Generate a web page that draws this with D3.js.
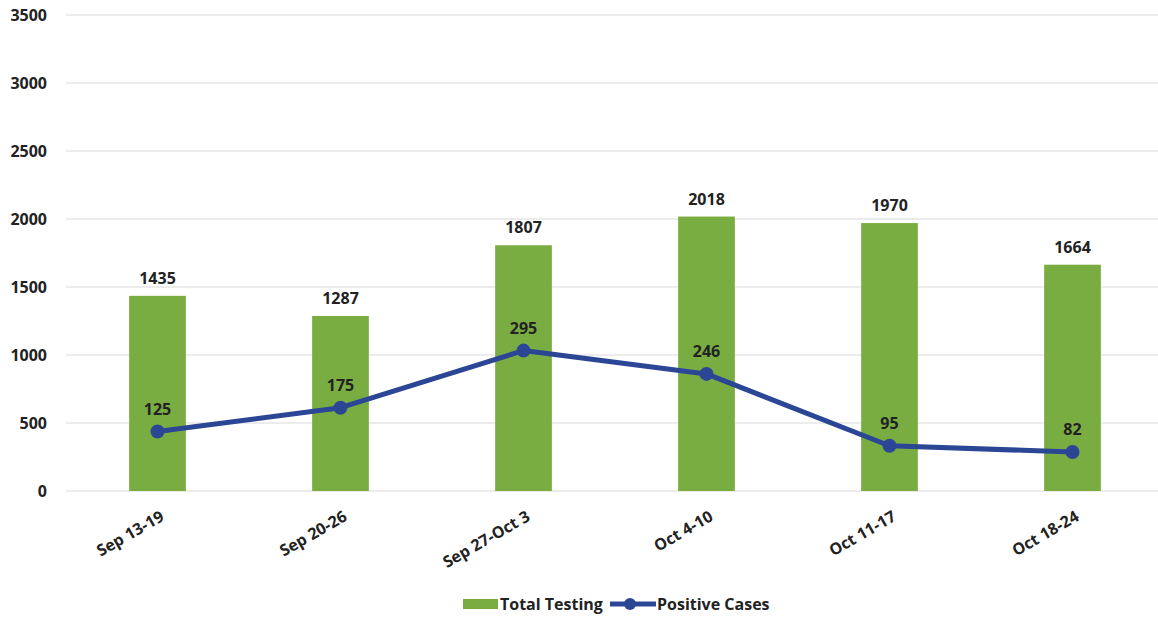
<!DOCTYPE html>
<html>
<head>
<meta charset="utf-8">
<script src="https://cdn.jsdelivr.net/npm/d3@7"></script>
<style>
  body { margin: 0; background: #fff; }
  text { font-family: "Open Sans", "Liberation Sans", sans-serif; font-weight: bold; fill: #222; }
</style>
</head>
<body>
<svg id="chart" width="1158" height="619"></svg>
<script>
var weeks = ["Sep 13-19", "Sep 20-26", "Sep 27-Oct 3", "Oct 4-10", "Oct 11-17", "Oct 18-24"];
var totalTesting = [1435, 1287, 1807, 2018, 1970, 1664];
var positiveCases = [125, 175, 295, 246, 95, 82];
var yTicks = [0, 500, 1000, 1500, 2000, 2500, 3000, 3500];

var svg = d3.select("#chart");
var green = "#7aad41";
var blue = "#2c4696";

var x = d3.scaleBand().domain(weeks).range([66, 1164]).paddingInner(0.69).paddingOuter(0.345);
var y = d3.scaleLinear().domain([0, 3500]).range([491, 15]);
// hidden secondary axis for the line
var y2 = d3.scaleLinear().domain([0, 1000]).range([491, 15]);

// gridlines
svg.append("g").selectAll("line").data(yTicks).enter().append("line")
  .attr("x1", 66).attr("x2", 1158)
  .attr("y1", function(d){ return y(d); }).attr("y2", function(d){ return y(d); })
  .attr("stroke", "#d9d9d9").attr("stroke-width", 1);

// y tick labels
svg.append("g").selectAll("text").data(yTicks).enter().append("text")
  .attr("x", 47).attr("y", function(d){ return y(d); })
  .attr("dy", "0.35em").attr("text-anchor", "end")
  .style("font-size", "16px")
  .text(function(d){ return d; });

// bars
svg.append("g").selectAll("rect").data(totalTesting).enter().append("rect")
  .attr("x", function(d, i){ return x(weeks[i]); })
  .attr("y", function(d){ return y(d); })
  .attr("width", x.bandwidth())
  .attr("height", function(d){ return y(0) - y(d); })
  .attr("fill", green);

svg.append("g").selectAll("text").data(totalTesting).enter().append("text")
  .attr("x", function(d, i){ return x(weeks[i]) + x.bandwidth() / 2; })
  .attr("y", function(d){ return y(d) - 12; })
  .attr("text-anchor", "middle")
  .style("font-size", "16px")
  .text(function(d){ return d; });

// line
var cx = function(i){ return x(weeks[i]) + x.bandwidth() / 2; };
var line = d3.line()
  .x(function(d, i){ return cx(i); })
  .y(function(d){ return y2(d); });

svg.append("path").datum(positiveCases)
  .attr("d", line)
  .attr("fill", "none").attr("stroke", blue).attr("stroke-width", 5)
  .attr("stroke-linejoin", "round");

svg.append("g").selectAll("circle").data(positiveCases).enter().append("circle")
  .attr("cx", function(d, i){ return cx(i); })
  .attr("cy", function(d){ return y2(d); })
  .attr("r", 7).attr("fill", blue);

svg.append("g").selectAll("text").data(positiveCases).enter().append("text")
  .attr("x", function(d, i){ return cx(i); })
  .attr("y", function(d){ return y2(d) - 17; })
  .attr("text-anchor", "middle")
  .style("font-size", "16px")
  .text(function(d){ return d; });

// x labels
svg.append("g").selectAll("text").data(weeks).enter().append("text")
  .attr("transform", function(d){ return "translate(" + (x(d) + x.bandwidth() / 2 + 2) + ",510) rotate(-30)"; })
  .attr("text-anchor", "end")
  .attr("dy", "0.7em")
  .style("font-size", "16px")
  .text(function(d){ return d; });

// legend
var legend = svg.append("g");
legend.append("rect").attr("x", 463).attr("y", 599).attr("width", 35).attr("height", 10).attr("fill", green);
legend.append("text").attr("x", 500).attr("y", 604).attr("dy", "0.35em").style("font-size", "16px").text("Total Testing");
legend.append("line").attr("x1", 610).attr("x2", 656).attr("y1", 604).attr("y2", 604)
  .attr("stroke", blue).attr("stroke-width", 5);
legend.append("circle").attr("cx", 630).attr("cy", 604).attr("r", 6).attr("fill", blue);
legend.append("text").attr("x", 657).attr("y", 604).attr("dy", "0.35em").style("font-size", "16px").text("Positive Cases");
</script>
</body>
</html>
